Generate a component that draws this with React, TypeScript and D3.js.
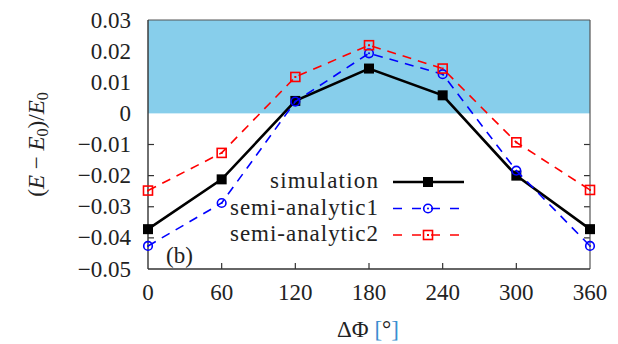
import React, { useEffect, useRef } from 'react';
import * as d3 from 'd3';

const angles = [0, 60, 120, 180, 240, 300, 360];
const simulation = [-0.0372, -0.0212, 0.0040, 0.0144, 0.0058, -0.0200, -0.0372];
const semiAnalytic1 = [-0.0426, -0.0288, 0.0038, 0.0193, 0.0126, -0.0184, -0.0426];
const semiAnalytic2 = [-0.0248, -0.0127, 0.0117, 0.0219, 0.0144, -0.0093, -0.0246];
const yTicks = [0.03, 0.02, 0.01, 0, -0.01, -0.02, -0.03, -0.04, -0.05];
const xTicks = [0, 60, 120, 180, 240, 300, 360];
const legendWidths = [108, 148, 148];

const W = 618;
const H = 344;
const margin = { left: 148, right: 28, top: 20, bottom: 75 };
const FONT = 'Liberation Serif';

const fmtY = (v: number) => (v === 0 ? '0' : (v < 0 ? '\u2212' : '') + Math.abs(v).toFixed(2));

const Marker: React.FC<{ kind: string; x: number; y: number }> = ({ kind, x, y }) => {
  if (kind === 'sim') return <rect x={x - 5} y={y - 5} width={10} height={10} fill="#000" />;
  if (kind === 'circ')
    return (
      <g>
        <circle cx={x} cy={y} r={4.3} fill="none" stroke="#0000ff" strokeWidth={1.6} />
        <circle cx={x} cy={y} r={1} fill="#0000ff" />
      </g>
    );
  return (
    <g>
      <rect x={x - 4.5} y={y - 4.5} width={9} height={9} fill="none" stroke="#ff0000" strokeWidth={1.6} />
      <rect x={x - 1} y={y - 1} width={2} height={2} fill="#ff0000" />
    </g>
  );
};

export default function App() {
  const svgRef = useRef<SVGSVGElement>(null);

  useEffect(() => {
    if (!svgRef.current) return;
    // force the serif face on every text node
    d3.select(svgRef.current)
      .selectAll<SVGElement, unknown>('text, tspan')
      .each(function () {
        this.style.setProperty('font-family', FONT, 'important');
      });
  }, []);

  const x = d3.scaleLinear().domain([0, 360]).range([margin.left, W - margin.right]);
  const y = d3.scaleLinear().domain([-0.05, 0.03]).range([H - margin.bottom, margin.top]);
  const line = d3
    .line<number>()
    .x((_, i) => x(angles[i]))
    .y(d => y(d));

  const series = [
    { name: 'simulation', values: simulation, color: '#000', width: 2.6, dash: undefined, kind: 'sim' },
    { name: 'semi-analytic1', values: semiAnalytic1, color: '#0000ff', width: 1.6, dash: '9,7', kind: 'circ' },
    { name: 'semi-analytic2', values: semiAnalytic2, color: '#ff0000', width: 1.6, dash: '9,7', kind: 'sq' },
  ];

  const x0 = x(0);
  const x1 = x(360);
  const yTop = y(0.03);
  const yBot = y(-0.05);
  const axisColor = '#333';

  return (
    <svg
      ref={svgRef}
      width={W}
      height={H}
      fontFamily={FONT}
      style={{ position: 'absolute', left: 0, top: 0, background: '#fff' }}
    >
      {/* shaded region above zero */}
      <rect x={x0} y={yTop} width={x1 - x0} height={y(0) - yTop} fill="#87ceeb" />

      {/* ticks */}
      {yTicks.filter(t => t < 0 && t > -0.05).map(t => (
        <g key={t}>
          <line x1={x0} x2={x0 + 6} y1={y(t)} y2={y(t)} stroke={axisColor} strokeWidth={1.2} />
          <line x1={x1} x2={x1 - 6} y1={y(t)} y2={y(t)} stroke={axisColor} strokeWidth={1.2} />
        </g>
      ))}
      {xTicks.filter(t => t > 0 && t < 360).map(t => (
        <line key={t} x1={x(t)} x2={x(t)} y1={yBot} y2={yBot - 6} stroke={axisColor} strokeWidth={1.2} />
      ))}

      {/* frame */}
      <line x1={x0} x2={x1} y1={yTop} y2={yTop} stroke="#555" strokeWidth={1.2} />
      <line x1={x1} x2={x1} y1={yTop} y2={yBot} stroke="#555" strokeWidth={1.2} />
      <line x1={x0} x2={x0} y1={yTop} y2={yBot} stroke={axisColor} strokeWidth={1.4} />
      <line x1={x0} x2={x1} y1={yBot} y2={yBot} stroke={axisColor} strokeWidth={1.4} />

      {/* tick labels */}
      {yTicks.map(t => (
        <text key={t} x={x0 - 17} y={y(t) + 7.5} textAnchor="end" fontFamily={FONT} fontSize={23} fill="#222">
          {fmtY(t)}
        </text>
      ))}
      {xTicks.map(t => (
        <text key={t} x={x(t)} y={300} textAnchor="middle" fontFamily={FONT} fontSize={23} fill="#222">
          {t}
        </text>
      ))}

      {/* series */}
      {series.map(s => (
        <g key={s.name}>
          <path d={line(s.values) || ''} fill="none" stroke={s.color} strokeWidth={s.width} strokeDasharray={s.dash} />
          {s.values.map((v, i) => (
            <Marker key={i} kind={s.kind} x={x(angles[i])} y={y(v)} />
          ))}
        </g>
      ))}

      {/* legend */}
      {series.map((s, i) => {
        const ly = 182 + i * 26.5;
        return (
          <g key={s.name}>
            <text
              x={378 - legendWidths[i]}
              y={ly + 6}
              textLength={legendWidths[i]}
              lengthAdjust="spacing"
              fontFamily={FONT}
              fontSize={23}
              fill="#222"
            >
              {s.name}
            </text>
            <line x1={393} x2={464} y1={ly} y2={ly} stroke={s.color} strokeWidth={s.width} strokeDasharray={s.dash ? '9,10' : undefined} />
            <Marker kind={s.kind} x={428} y={ly} />
          </g>
        );
      })}

      <text x={166} y={263} fontFamily={FONT} fontSize={23} fill="#222">(b)</text>

      {/* axis titles */}
      <text
        transform={`translate(44, ${(yTop + yBot) / 2}) rotate(-90)`}
        textAnchor="middle"
        fontFamily={FONT}
        fontSize={23}
        fill="#222"
      >
        (<tspan fontStyle="italic">E</tspan> − <tspan fontStyle="italic">E</tspan>
        <tspan fontSize={16} dy={4}>0</tspan>
        <tspan dy={-4}>)/</tspan>
        <tspan fontStyle="italic">E</tspan>
        <tspan fontSize={16} dy={4}>0</tspan>
      </text>
      <text x={368} y={337} textAnchor="middle" fontFamily={FONT} fontSize={23} fill="#222">
        ΔΦ <tspan fill="#3a8fd0">[</tspan>°<tspan fill="#3a8fd0">]</tspan>
      </text>
    </svg>
  );
}
